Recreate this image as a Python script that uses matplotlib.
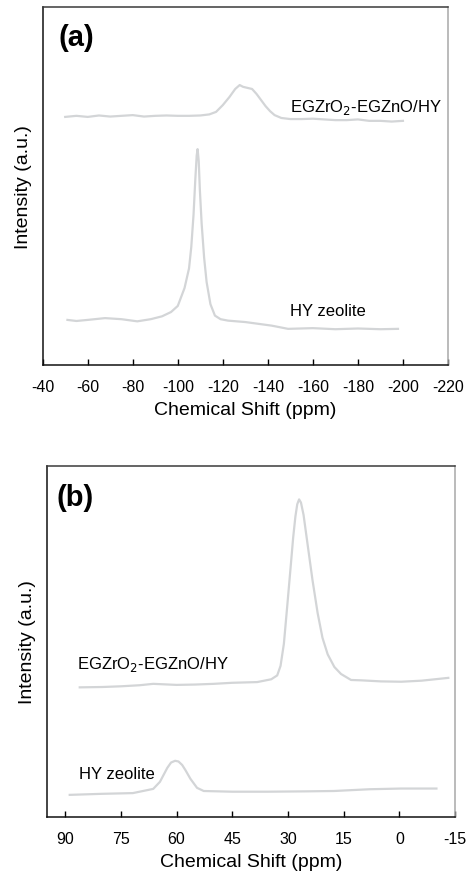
import matplotlib.pyplot as plt

# (a) 29Si spectra, chemical shift in ppm / intensity in arbitrary units
si_shift_comp = [-50, -55, -60, -65, -70, -75, -80, -85, -90, -95, -100, -105, -110,
                 -114, -117, -120, -123, -125.5, -127.5, -129, -131, -133, -135, -137,
                 -139, -141, -143, -146, -150, -155, -160, -165, -170, -175, -180, -185,
                 -190, -195, -200]
si_int_comp = [69.3, 69.6, 69.3, 69.7, 69.4, 69.6, 69.8, 69.4, 69.6, 69.7, 69.6, 69.6, 69.7,
               70.0, 70.7, 72.6, 74.9, 77.1, 78.2, 77.7, 77.4, 77.1, 75.7, 74.0,
               72.3, 70.9, 69.8, 69.0, 68.7, 68.7, 68.8, 68.6, 68.4, 68.4, 68.6, 68.2,
               68.2, 68.0, 68.2]

si_shift_hy = [-51, -55, -60, -67.7, -75, -82, -88, -93, -97, -100, -103, -105, -106,
               -107, -107.8, -108.4, -108.8, -109.3, -109.8, -110.6, -111.7, -112.8,
               -114.5, -116.5, -119, -122.3, -130, -141.7, -149, -160, -170, -180, -190,
               -197.8]
si_int_hy = [12.6, 12.3, 12.6, 13.1, 12.8, 12.2, 12.8, 13.6, 14.8, 16.5, 21.5, 27.0, 33.0,
             42.0, 52.0, 58.5, 60.3, 57.0, 49.0, 39.5, 30.0, 23.2,
             17.0, 13.8, 12.8, 12.4, 12.0, 11.0, 10.1, 10.3, 10.0, 10.2, 10.0, 10.1]

# (b) 13C spectra
c_shift_comp = [86.1, 80, 75, 70, 66.3, 60, 55, 50, 45, 38.3, 34.5, 32.9, 32.0, 31.1, 30.2,
                29.3, 28.6, 28.0, 27.5, 27.0, 26.5, 25.8, 24.7, 23.4, 22.0, 20.7, 19.3,
                17.5, 15.7, 13, 10.3, 5, -0.5, -6, -13.2]
c_int_comp = [36.9, 37.0, 37.2, 37.5, 37.9, 37.6, 37.7, 37.9, 38.2, 38.4, 39.2, 40.3, 43.0,
              49.3, 60.0, 70.9, 79.5, 85.5, 89.0, 90.4, 89.5, 86.0, 77.5, 67.5, 58.0,
              51.0, 46.3, 42.7, 40.7, 39.0, 38.9, 38.6, 38.5, 38.8, 39.6]

c_shift_hy = [88.8, 80, 71.8, 66.3, 64.5, 63.6, 62.5, 61.5, 60.4, 59.5, 58.5, 57.6, 56.3,
              54.5, 52.7, 45, 35.6, 25, 17.6, 8, -0.5, -10]
c_int_hy = [6.3, 6.6, 6.8, 8.0, 10.0, 11.8, 14.0, 15.5, 16.0, 15.8, 14.8, 13.3, 10.9,
            8.3, 7.4, 7.2, 7.2, 7.3, 7.4, 7.9, 8.1, 8.1]

line_color = '#d3d5d7'
font = 'Liberation Sans'


def style_axes(ax, xlim, xticks):
    ax.set_xlim(*xlim)
    ax.set_ylim(0, 100)
    ax.set_xticks(xticks)
    ax.set_xticklabels([f'{t:g}' for t in xticks], family=font, fontsize=11.5)
    ax.set_yticks([])
    ax.tick_params(axis='x', direction='in', length=4, width=1, pad=10)
    ax.spines['left'].set_color('#111111')
    ax.spines['bottom'].set_color('#111111')
    ax.spines['top'].set_color('#3a3a3a')
    ax.spines['right'].set_color('#a8a8a8')
    for s in ax.spines.values():
        s.set_linewidth(1.1)
    ax.set_xlabel('Chemical Shift (ppm)', family=font, fontsize=14, labelpad=5)
    ax.set_ylabel('Intensity (a.u.)', family=font, fontsize=14, labelpad=8)


fig = plt.figure(figsize=(4.68, 8.79), dpi=100)

ax1 = fig.add_axes([0.0912, 0.5836, 0.866, 0.4073])
ax1.plot(si_shift_comp, si_int_comp, color=line_color, lw=1.6)
ax1.plot(si_shift_hy, si_int_hy, color=line_color, lw=1.6)
style_axes(ax1, (-40, -220), list(range(-40, -221, -20)))
ax1.text(-149.8, 72.1, 'EGZrO$_2$-EGZnO/HY', family=font, fontsize=12,
         ha='left', va='center')
ax1.text(-149.8, 15.1, 'HY zeolite', family=font, fontsize=12,
         ha='left', va='center')
ax1.text(0.038, 0.916, '(a)', transform=ax1.transAxes, fontsize=21,
         fontweight='bold', family=font, ha='left', va='center')

ax2 = fig.add_axes([0.0998, 0.0694, 0.8724, 0.3997])
ax2.plot(c_shift_comp, c_int_comp, color=line_color, lw=1.6)
ax2.plot(c_shift_hy, c_int_hy, color=line_color, lw=1.6)
style_axes(ax2, (95, -15), list(range(90, -16, -15)))
ax2.text(86.9, 43.6, 'EGZrO$_2$-EGZnO/HY', family=font, fontsize=12,
         ha='left', va='center')
ax2.text(86.4, 12.5, 'HY zeolite', family=font, fontsize=12,
         ha='left', va='center')
ax2.text(0.025, 0.912, '(b)', transform=ax2.transAxes, fontsize=21,
         fontweight='bold', family=font, ha='left', va='center')

fig.savefig('out.png', dpi=100)
